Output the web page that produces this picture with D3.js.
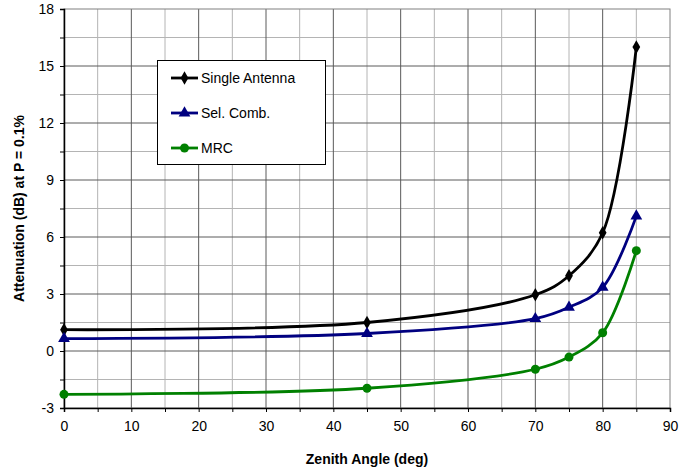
<!DOCTYPE html>
<html><head><meta charset="utf-8">
<script src="https://cdn.jsdelivr.net/npm/d3@7"></script>
<style>body{margin:0;background:#fff;} text{font-family:"Liberation Sans",Arial,sans-serif;}</style>
</head><body>
<svg id="c" width="681" height="473"></svg>
<script>
const angles = [0, 45, 70, 75, 80, 85];
const singleAntenna = [1.12, 1.5, 2.96, 3.96, 6.22, 16.0];
const selComb = [0.65, 0.92, 1.7, 2.3, 3.35, 7.1];
const mrc = [-2.28, -1.96, -0.96, -0.32, 0.96, 5.28];
const seriesNames = ["Single Antenna", "Sel. Comb.", "MRC"];
const xTicks = [0,10,20,30,40,50,60,70,80,90];
const yTicks = [-3,0,3,6,9,12,15,18];

const series = [
  {name: seriesNames[0], values: singleAntenna, color: "#000000", marker: "diamond"},
  {name: seriesNames[1], values: selComb, color: "#000080", marker: "triangle"},
  {name: seriesNames[2], values: mrc, color: "#008000", marker: "circle"}
];

const svg = d3.select("#c");
const L = 64, R = 670, T = 9, B = 408;
const x = d3.scaleLinear().domain([0, 90]).range([L, R]);
const y = d3.scaleLinear().domain([-3, 18]).range([B, T]);

const g = svg.append("g");
d3.range(5, 90, 10).forEach(v => g.append("line").attr("x1", x(v)).attr("x2", x(v)).attr("y1", T).attr("y2", B).attr("stroke", "#b4b4b4").attr("stroke-width", 1));
d3.range(-1.5, 18, 3).forEach(v => g.append("line").attr("x1", L).attr("x2", R).attr("y1", y(v)).attr("y2", y(v)).attr("stroke", "#b4b4b4").attr("stroke-width", 1));
xTicks.slice(1, -1).forEach(v => g.append("line").attr("x1", x(v)).attr("x2", x(v)).attr("y1", T).attr("y2", B).attr("stroke", "#5a5a5a").attr("stroke-width", 1));
yTicks.slice(1, -1).forEach(v => g.append("line").attr("x1", L).attr("x2", R).attr("y1", y(v)).attr("y2", y(v)).attr("stroke", "#5a5a5a").attr("stroke-width", 1));
svg.append("rect").attr("x", L).attr("y", T).attr("width", R - L).attr("height", B - T).attr("fill", "none").attr("stroke", "#808080").attr("stroke-width", 1);

const xAxis = d3.axisBottom(x).tickValues(d3.range(0, 91, 5)).tickSize(4).tickFormat(d => xTicks.includes(d) ? d : "");
const xa = svg.append("g").attr("transform", `translate(0,${B})`).call(xAxis);
xa.select(".domain").attr("stroke", "#000").attr("stroke-width", 1.5);
xa.selectAll(".tick line").attr("stroke", "#000");
xa.selectAll("text").attr("font-size", 14).attr("dy", "1.15em").attr("fill", "#000").style("font-family", "Liberation Sans, Arial, sans-serif");

const yAxis = d3.axisLeft(y).tickValues(d3.range(-3, 18.1, 1.5)).tickSize(4).tickFormat(d => yTicks.includes(d) ? d : "");
const ya = svg.append("g").attr("transform", `translate(${L},0)`).call(yAxis);
ya.select(".domain").attr("stroke", "#000").attr("stroke-width", 1.5);
ya.selectAll(".tick line").attr("stroke", "#000");
ya.selectAll("text").attr("font-size", 14).attr("x", -10).attr("fill", "#000").style("font-family", "Liberation Sans, Arial, sans-serif");

svg.append("text").attr("x", (L + R) / 2).attr("y", 464).attr("text-anchor", "middle").attr("font-size", 14).attr("font-weight", "bold").text("Zenith Angle (deg)");
svg.append("text").attr("transform", `translate(24,${(T + B) / 2}) rotate(-90)`).attr("text-anchor", "middle").attr("font-size", 14).attr("font-weight", "bold").text("Attenuation (dB) at P = 0.1%");

const line = d3.line().x(d => x(d[0])).y(d => y(d[1])).curve(d3.curveCatmullRom.alpha(0.5));
function marker(sel, type, color, cx, cy) {
  if (type === "diamond") sel.append("path").attr("d", d3.symbol(d3.symbolDiamond, 52)()).attr("transform", `translate(${cx},${cy})`).attr("fill", color);
  else if (type === "triangle") sel.append("path").attr("d", d3.symbol(d3.symbolTriangle, 60)()).attr("transform", `translate(${cx},${cy})`).attr("fill", color);
  else sel.append("circle").attr("cx", cx).attr("cy", cy).attr("r", 4.5).attr("fill", color);
}
series.forEach(s => {
  const pts = angles.map((a, i) => [a, s.values[i]]);
  svg.append("path").attr("d", line(pts)).attr("fill", "none").attr("stroke", s.color).attr("stroke-width", 2.8);
  const mg = svg.append("g");
  pts.forEach(p => marker(mg, s.marker, s.color, x(p[0]), y(p[1])));
});

const lg = svg.append("g");
lg.append("rect").attr("x", 157.5).attr("y", 60.5).attr("width", 168).attr("height", 104).attr("fill", "#fff").attr("stroke", "#000").attr("stroke-width", 1);
const ly = [78, 113, 148];
series.forEach((s, i) => {
  lg.append("line").attr("x1", 171).attr("x2", 198).attr("y1", ly[i]).attr("y2", ly[i]).attr("stroke", s.color).attr("stroke-width", 2.8);
  marker(lg, s.marker, s.color, 184.5, ly[i]);
  lg.append("text").attr("x", 201).attr("y", ly[i]).attr("dy", "0.36em").attr("font-size", 14).text(s.name);
});
</script>
</body></html>
